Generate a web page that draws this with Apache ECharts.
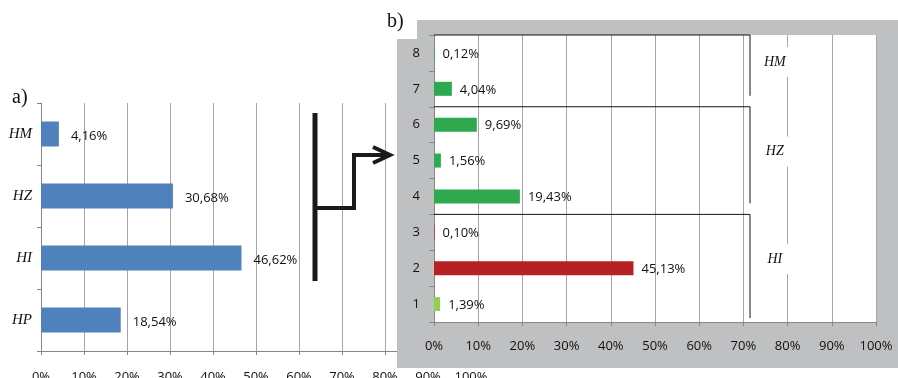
<!DOCTYPE html>
<html>
<head>
<meta charset="utf-8">
<script src="https://cdn.jsdelivr.net/npm/echarts@6/dist/echarts.min.js"></script>
<style>
  html, body { margin: 0; padding: 0; background: #fff; }
  #c { width: 898px; height: 378px; }
</style>
</head>
<body>
<div id="c"></div>
<script>
// Panel a: share of each main group
const catsA = ['HP', 'HI', 'HZ', 'HM'];
const valsA = [18.54, 46.62, 30.68, 4.16];

// Panel b: detail categories 1..8
const catsB = ['1', '2', '3', '4', '5', '6', '7', '8'];
const valsB = [1.39, 45.13, 0.10, 19.43, 1.56, 9.69, 4.04, 0.12];

// Groups of panel b (category index ranges, bottom to top)
const groupNamesB = ['HI', 'HZ', 'HM'];
const groupSpansB = [[0, 2], [3, 5], [6, 7]];

// Percent tick values shared by both value axes
const pctTicks = [0, 10, 20, 30, 40, 50, 60, 70, 80, 90, 100];

const barColorsB = ['#92d050', '#b72025', '#b72025', '#2ea94f', '#2ea94f', '#2ea94f', '#2ea94f', '#2ea94f'];

const fmt = v => v.toFixed(2).replace('.', ',') + '%';
const axisGray = '#868686';
const gridGray = '#a6a6a6';
const numFont = { fontFamily: 'Open Sans', fontSize: 13, color: '#111' };

const chart = echarts.init(document.getElementById('c'), null, { renderer: 'canvas' });

function valueAxis(gridIndex, margin, z) {
  return {
    gridIndex, type: 'value', z,
    min: pctTicks[0], max: pctTicks[pctTicks.length - 1],
    interval: pctTicks[1] - pctTicks[0],
    axisLabel: Object.assign({ formatter: '{value}%', margin }, numFont),
    axisLine: { show: true, lineStyle: { color: axisGray } },
    axisTick: { show: true, length: 4, lineStyle: { color: axisGray } },
    splitLine: { show: true, lineStyle: { color: gridGray, width: 1 } }
  };
}

chart.setOption({
  animation: false,
  grid: [
    { left: 41, top: 103, width: 430, height: 248, containLabel: false, outerBoundsMode: 'none' },
    { left: 434, top: 35, width: 442, height: 287, containLabel: false, outerBoundsMode: 'none' }
  ],
  xAxis: [valueAxis(0, 20, 0), valueAxis(1, 18, 11)],
  yAxis: [
    {
      gridIndex: 0, type: 'category', data: catsA,
      axisLabel: { margin: 9, fontFamily: 'Liberation Serif', fontStyle: 'italic', fontSize: 15, color: '#111' },
      axisLine: { show: true, lineStyle: { color: axisGray } },
      axisTick: { show: true, length: 4, lineStyle: { color: axisGray } }
    },
    {
      gridIndex: 1, type: 'category', data: catsB, z: 11,
      axisLabel: Object.assign({ margin: 14 }, numFont),
      axisLine: { show: true, lineStyle: { color: axisGray } },
      axisTick: { show: true, length: 5, lineStyle: { color: axisGray } }
    }
  ],
  series: [
    {
      type: 'bar', xAxisIndex: 0, yAxisIndex: 0, z: 2,
      data: valsA, barWidth: 25,
      itemStyle: { color: '#4f81bd' },
      label: Object.assign({ show: true, position: 'right', distance: 12, offset: [0, 2], formatter: p => fmt(p.value) }, numFont)
    },
    {
      type: 'bar', xAxisIndex: 1, yAxisIndex: 1, z: 12,
      data: valsB.map((v, i) => ({ value: v, itemStyle: { color: barColorsB[i] } })),
      barWidth: 14,
      label: Object.assign({ show: true, position: 'right', distance: 8, offset: [0, 1], formatter: p => fmt(p.value) }, numFont)
    }
  ]
});

// Group brackets and labels on panel b, placed through the axes
const px = v => chart.convertToPixel({ xAxisIndex: 1 }, v);
const py = i => chart.convertToPixel({ yAxisIndex: 1 }, i);
const bandB = Math.abs(py(0) - py(1));
const x0 = px(0);
const xBracket = px(71.5);
const xLabel = px(77.1);
const bracketEls = [];
groupSpansB.forEach((span, g) => {
  const top = py(span[1]) - bandB / 2;
  const bottom = py(span[0]) + bandB / 2;
  const end = g === 0 ? bottom - 4 : bottom - 11;
  bracketEls.push({
    type: 'polyline', z: 13, silent: true,
    shape: { points: [[x0, top], [xBracket, top], [xBracket, end]] },
    style: { stroke: '#111', lineWidth: 1, fill: null }
  });
  bracketEls.push({
    type: 'text', z: 14, silent: true,
    x: xLabel, y: (top + bottom) / 2 - 9,
    style: {
      text: groupNamesB[g], font: 'italic 14px "Liberation Serif"', fill: '#111',
      align: 'center', verticalAlign: 'middle',
      backgroundColor: '#fff', padding: [8, 6]
    }
  });
});

chart.setOption({
  graphic: {
    elements: [
      // frame of panel b
      { type: 'rect', z: 10, silent: true, shape: { x: 397, y: 20, width: 501, height: 348 }, style: { fill: '#bfc0c2' } },
      { type: 'rect', z: 10, silent: true, shape: { x: 397, y: 20, width: 20, height: 19 }, style: { fill: '#fff' } },
      { type: 'rect', z: 10, silent: true, shape: { x: 434, y: 35, width: 442, height: 287 }, style: { fill: '#fff' } },
      // panel captions
      { type: 'text', z: 14, x: 12, y: 98, style: { text: 'a)', font: '20px "Liberation Serif"', fill: '#111', verticalAlign: 'middle' } },
      { type: 'text', z: 14, x: 387, y: 22, style: { text: 'b)', font: '20px "Liberation Serif"', fill: '#111', verticalAlign: 'middle' } },
      // arrow from panel a towards panel b
      { type: 'line', z: 3, silent: true, shape: { x1: 315, y1: 113, x2: 315, y2: 281 }, style: { stroke: '#1a1a1a', lineWidth: 5 } },
      { type: 'polyline', z: 3, silent: true, shape: { points: [[315, 208], [354, 208], [354, 155], [389, 155]] }, style: { stroke: '#1a1a1a', lineWidth: 4, fill: null } },
      { type: 'polyline', z: 3, silent: true, shape: { points: [[373, 147], [390, 155], [373, 163]] }, style: { stroke: '#1a1a1a', lineWidth: 4, fill: null, lineJoin: 'miter' } }
    ].concat(bracketEls)
  }
});
</script>
</body>
</html>
